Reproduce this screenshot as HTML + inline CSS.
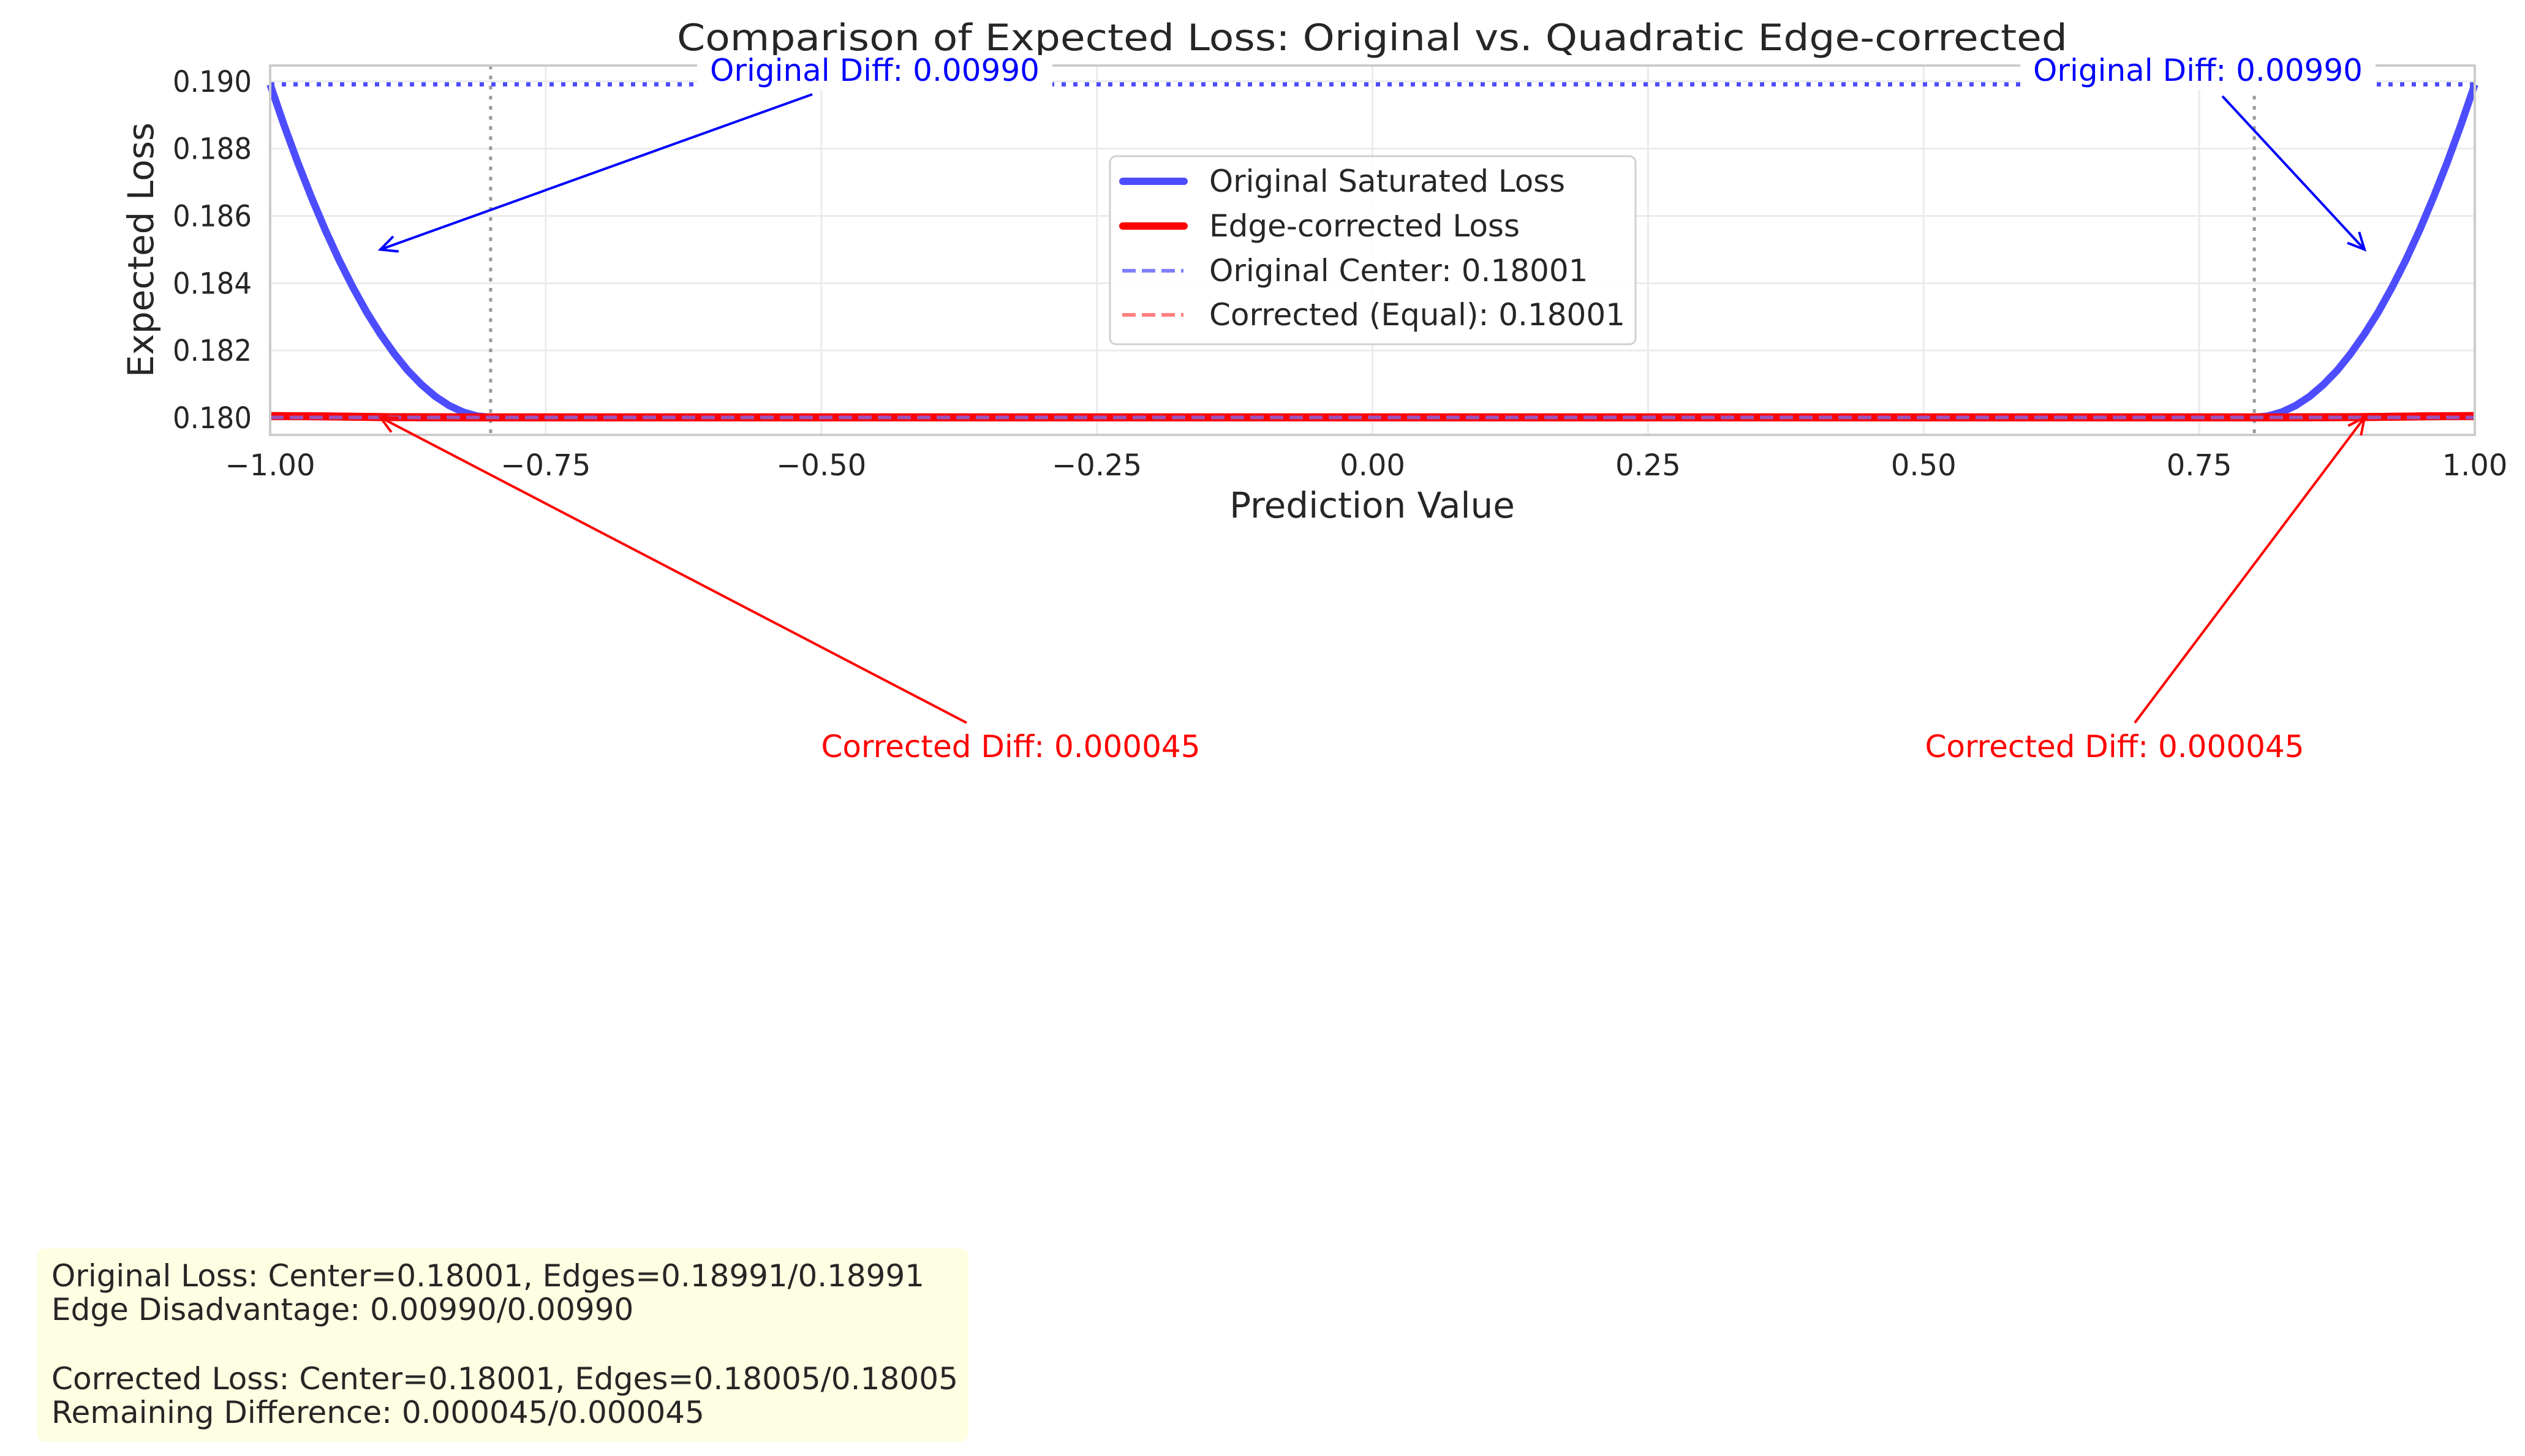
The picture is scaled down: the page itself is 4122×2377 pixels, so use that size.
<!DOCTYPE html>
<html><head><meta charset="utf-8"><style>
html,body{margin:0;padding:0;background:#fff;}
svg text{font-family:"DejaVu Sans","Liberation Sans",sans-serif;}
</style></head><body>
<svg id="chart" width="4122" height="2372" viewBox="0 0 4122 2372" xmlns="http://www.w3.org/2000/svg">
<rect width="4122" height="2372" fill="#fff"/>
<g id="grid"></g>
<g id="refs"></g>
<g id="series"></g>
<g id="axes"></g>
<text x="2240" y="82" text-anchor="middle" font-size="60" fill="#262626" textLength="2270" lengthAdjust="spacingAndGlyphs">Comparison of Expected Loss: Original vs. Quadratic Edge-corrected</text>
<text transform="translate(250,408) rotate(-90)" text-anchor="middle" font-size="58" fill="#262626">Expected Loss</text>
<text x="2240" y="845" text-anchor="middle" font-size="58" fill="#262626">Prediction Value</text>
<g id="annot"></g>
<g>
<rect x="1812" y="255" width="858" height="307" rx="10" fill="#fff" fill-opacity="0.9" stroke="#d0d0d0" stroke-width="3"/>
<g><line x1="1833" y1="296" x2="1933" y2="296" stroke="#4d4dff" stroke-width="12" stroke-linecap="round"/><text x="1974" y="313" font-size="50" fill="#262626" textLength="581" lengthAdjust="spacingAndGlyphs">Original Saturated Loss</text></g>
<g><line x1="1833" y1="369" x2="1933" y2="369" stroke="#ff0000" stroke-width="12" stroke-linecap="round"/><text x="1974" y="386" font-size="50" fill="#262626">Edge-corrected Loss</text></g>
<g><line x1="1832" y1="442" x2="1932" y2="442" stroke="#8080ff" stroke-width="6" stroke-dasharray="22 10"/><text x="1974" y="459" font-size="50" fill="#262626">Original Center: 0.18001</text></g>
<g><line x1="1832" y1="514" x2="1932" y2="514" stroke="#ff8080" stroke-width="6" stroke-dasharray="22 10"/><text x="1974" y="531" font-size="50" fill="#262626">Corrected (Equal): 0.18001</text></g>
</g>
<g>
<rect x="60" y="2038" width="1521" height="316" rx="14" fill="#fefee2"/>
<text x="84" y="2100" font-size="50" fill="#262626" textLength="1425" lengthAdjust="spacingAndGlyphs">Original Loss: Center=0.18001, Edges=0.18991/0.18991</text>
<text x="84" y="2155" font-size="50" fill="#262626">Edge Disadvantage: 0.00990/0.00990</text>
<text x="84" y="2268" font-size="50" fill="#262626" textLength="1480" lengthAdjust="spacingAndGlyphs">Corrected Loss: Center=0.18001, Edges=0.18005/0.18005</text>
<text x="84" y="2323" font-size="50" fill="#262626">Remaining Difference: 0.000045/0.000045</text>
</g>
</svg>
<script>
const xTicks=[-1,-0.75,-0.5,-0.25,0,0.25,0.5,0.75,1];
const xTickLabels=["\u22121.00","\u22120.75","\u22120.50","\u22120.25","0.00","0.25","0.50","0.75","1.00"];
const yTicks=[0.180,0.182,0.184,0.186,0.188,0.190];
const yTickLabels=["0.180","0.182","0.184","0.186","0.188","0.190"];
const origX=[-1,-0.9875,-0.975,-0.9625,-0.95,-0.9375,-0.925,-0.9125,-0.9,-0.8875,-0.875,-0.8625,-0.85,-0.8375,-0.825,-0.8125,-0.8,0,0.8,0.8125,0.825,0.8375,0.85,0.8625,0.875,0.8875,0.9,0.9125,0.925,0.9375,0.95,0.9625,0.975,0.9875,1];
const origY=[0.18991,0.18871,0.18759,0.18655,0.18558,0.18469,0.18388,0.18314,0.18249,0.18191,0.18140,0.18098,0.18063,0.18036,0.18017,0.18005,0.18001,0.18001,0.18001,0.18005,0.18017,0.18036,0.18063,0.18098,0.18140,0.18191,0.18249,0.18314,0.18388,0.18469,0.18558,0.18655,0.18759,0.18871,0.18991];
const corrX=[-1,-0.95,-0.9,-0.85,-0.8,0,0.8,0.85,0.9,0.95,1];
const corrY=[0.18005,0.18004,0.18002,0.180015,0.18001,0.18001,0.18001,0.180015,0.18002,0.18004,0.18005];
const centerValues=[0.18001,0.18001];
const edgeValue=[0.18991];
const thresholds=[-0.8,0.8];
const origDiffLabels=["Original Diff: 0.00990","Original Diff: 0.00990"];
const corrDiffLabels=["Corrected Diff: 0.000045","Corrected Diff: 0.000045"];
const annotPointX=[-0.9,0.9];
const annotOrigY=[0.185,0.185];
const annotCorrY=[0.18001,0.18001];

const L=441,R=4040,T=107,B=710;
const X0=-1,X1=1,Y0=0.17949,Y1=0.19047;
const sx=v=>L+(v-X0)/(X1-X0)*(R-L);
const sy=v=>B-(v-Y0)/(Y1-Y0)*(B-T);
const NS="http://www.w3.org/2000/svg";
function mk(tag,parent,attrs){const e=document.createElementNS(NS,tag);for(const k in attrs)e.setAttribute(k,attrs[k]);parent.appendChild(e);return e;}
const grid=document.getElementById('grid'),axes=document.getElementById('axes'),refs=document.getElementById('refs'),series=document.getElementById('series'),annot=document.getElementById('annot');
mk('rect',grid,{x:L,y:T,width:R-L,height:B-T,fill:'#fff'});
xTicks.forEach((v,i)=>{
 const g=mk('line',grid,{x1:sx(v),x2:sx(v),y1:T,y2:B,stroke:'#ebebeb','stroke-width':3});
 
 
 const t=mk('text',axes,{x:sx(v),y:776,'text-anchor':'middle','font-size':48,fill:'#262626'});
 t.textContent=xTickLabels[i];
 
 
});
yTicks.forEach((v,i)=>{
 const g=mk('line',grid,{x1:L,x2:R,y1:sy(v),y2:sy(v),stroke:'#ebebeb','stroke-width':3});
 
 
 const t=mk('text',axes,{x:282,y:sy(v)+17,'font-size':48,fill:'#262626',textLength:129,lengthAdjust:'spacingAndGlyphs'});
 t.textContent=yTickLabels[i];
 
 
});
const frame=mk('rect',axes,{x:L,y:T,width:R-L,height:B-T,fill:'none',stroke:'#cccccc','stroke-width':4});


thresholds.forEach(v=>{
 const l=mk('line',refs,{x1:sx(v),x2:sx(v),y1:T,y2:B,stroke:'#999','stroke-width':5,'stroke-dasharray':'6 10.5'});
 
 
});
const hl=mk('line',refs,{x1:sx(-1),x2:sx(1),y1:sy(edgeValue[0]),y2:sy(edgeValue[0]),stroke:'#4d4dff','stroke-width':7,'stroke-dasharray':'7 12'});


function path(xs,ys){return xs.map((x,i)=>(i?'L':'M')+sx(x).toFixed(1)+','+sy(ys[i]).toFixed(1)).join(' ');}
const pc=mk('path',series,{d:path(corrX,corrY),fill:'none',stroke:'#ff0000','stroke-width':13,'stroke-linejoin':'round'});


const po=mk('path',series,{d:path(origX,origY),fill:'none',stroke:'#4d4dff','stroke-width':12,'stroke-linejoin':'round'});


const pc2=mk('path',series,{d:path(corrX,corrY),fill:'none',stroke:'#ff0000','stroke-width':13,'stroke-linejoin':'round'});


const c1=mk('line',series,{x1:sx(-1),x2:sx(1),y1:sy(centerValues[0]),y2:sy(centerValues[0]),stroke:'#8080ff','stroke-opacity':0.8,'stroke-width':6,'stroke-dasharray':'22 10'});


const c2=mk('line',series,{x1:sx(-1),x2:sx(1),y1:sy(centerValues[1]),y2:sy(centerValues[1]),stroke:'#a040a0','stroke-opacity':0.5,'stroke-width':6,'stroke-dasharray':'22 10'});


function arrow(x1,y1,x2,y2,col,name){
 const g=mk('g',annot,{});
 
 
 mk('line',g,{x1,y1,x2,y2,stroke:col,'stroke-width':4});
 const a=Math.atan2(y2-y1,x2-x1),h=30,s=0.45;
 mk('polyline',g,{points:`${x2-h*Math.cos(a-s)},${y2-h*Math.sin(a-s)} ${x2},${y2} ${x2-h*Math.cos(a+s)},${y2-h*Math.sin(a+s)}`,fill:'none',stroke:col,'stroke-width':4});
}
const origTextX=[1428,3588],corrTextX=[1650,3452];
annotPointX.forEach((v,i)=>{
 const bg=mk('rect',annot,{x:origTextX[i]-290,y:90,width:580,height:56,fill:'#fff'});
 
 
 const t=mk('text',annot,{x:origTextX[i],y:132,'text-anchor':'middle','font-size':50,fill:'#0000ff'});
 t.textContent=origDiffLabels[i];
 
 
 arrow(i?3628:1326,i?157:154,sx(v),sy(annotOrigY[i]),'#0000ff','original-diff-arrow');
 const t2=mk('text',annot,{x:corrTextX[i],y:1236,'text-anchor':'middle','font-size':50,fill:'#ff0000'});
 t2.textContent=corrDiffLabels[i];
 
 
 arrow(i?3485:1578,1180,sx(v),sy(annotCorrY[i]),'#ff0000','corrected-diff-arrow');
});
</script>
</body></html>
